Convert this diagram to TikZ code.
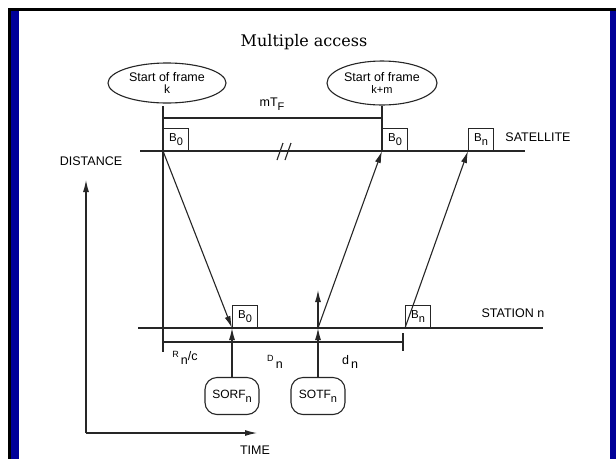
\documentclass[tikz,border=0pt]{standalone}
\usepackage{fontspec}
\setsansfont{Liberation Sans}
\newfontfamily\titlefont{DejaVu Serif}
\usetikzlibrary{shapes.geometric,arrows.meta}
\definecolor{slideblue}{RGB}{0,0,153}
\newcommand{\lowsub}[1]{\raisebox{-4pt}{\fontsize{11}{11}\selectfont #1}}

\begin{document}
\begin{tikzpicture}[x=1pt,y=-1pt,line width=1.1pt,draw=black!85]
    \tikzset{slot/.style={draw, minimum width=25pt, minimum height=22pt, inner sep=0pt, anchor=south west, font=\sffamily\fontsize{11.5}{11.5}\selectfont},
             sofbubble/.style={ellipse, draw, align=center, inner sep=0pt, font=\sffamily\fontsize{12.5}{13}\selectfont},
             marker/.style={draw, rounded corners=12pt, minimum width=54pt, minimum height=37pt, font=\sffamily\fontsize{12}{12}\selectfont},
             lbl/.style={font=\sffamily\fontsize{12.5}{12.5}\selectfont},
             ray/.style={-{Latex[length=12pt,width=6pt]}}};
%%
  \fill[white] (0,0) rectangle (616,459);
  \fill[black] (8,8) rectangle (616,11);
  \fill[black] (8,8) rectangle (11,459);
  \fill[slideblue] (11,11) rectangle (19,459);
  \fill[slideblue] (610,11) rectangle (616,459);
  \useasboundingbox (0,0) rectangle (616,459);

  \node (title) at (304,42) {\titlefont\fontsize{16}{18}\selectfont Multiple access};

  \node (sofk) at (167,83) [sofbubble, minimum width=118pt, minimum height=40pt] {Start of frame\\[-1pt]{\fontsize{12}{12}\selectfont k}};
  \node (sofkm) at (382,83) [sofbubble, minimum width=110pt, minimum height=44pt] {Start of frame\\[-1pt]{\fontsize{11}{11}\selectfont k+m}};

  \coordinate (tk) at (163,106);
  \coordinate (tkm) at (382,106);
  \coordinate (tkbot) at (163,352);
  \coordinate (satL) at (140,151);
  \coordinate (satR) at (525,151);
  \coordinate (staL) at (138,328);
  \coordinate (staR) at (543,328);
  \coordinate (sotfpt) at (318,328);
  \coordinate (sotftop) at (318,290);
  \coordinate (mtl) at (163,118);
  \coordinate (mtr) at (382,118);
  \coordinate (barL) at (164,342);
  \coordinate (barR) at (403,342);
  \coordinate (tickT) at (403,333);
  \coordinate (tickB) at (403,351);
  \coordinate (orig) at (86,433);
  \coordinate (distop) at (86,180);
  \coordinate (timend) at (257,433);

  \draw [] (satL) -- (satR);
  \draw [] (staL) -- (staR);

  \node (s0) at (163,151) [slot] {B\lowsub{0}};
  \node (s0m) at (382,151) [slot] {B\lowsub{0}};
  \node (sn) at (468,151) [slot] {B\lowsub{n}};
  \node (g0) at (232,328) [slot] {B\lowsub{0}};
  \node (gn) at (405,328) [slot] {B\lowsub{n}};

  \draw [] (tk) -- (tkbot);
  \draw [] (tkm) -- (s0m.south west);
  \draw [] (mtl) -- (mtr);
  \node (mtf) at (272,104) [lbl] {mT\lowsub{F}};

  \draw [] (277,160) -- (283,143);
  \draw [] (285,160) -- (291,143);

  \draw [ray] (s0.south west) -- (g0.south west);
  \draw [ray] (sotfpt) -- (s0m.south west);
  \draw [ray] (gn.south west) -- (sn.south west);

  \node (sorf) at (232,396) [marker] {SORF\lowsub{n}};
  \node (sotf) at (318,396) [marker] {SOTF\lowsub{n}};
  \draw [ray] (sorf.north) -- (g0.south west);
  \draw [ray] (sotf.north) -- (sotfpt);
  \draw [ray] (sotfpt) -- (sotftop);

  \draw [] (barL) -- (barR);
  \draw [] (tickT) -- (tickB);
  \node (rnc) at (185,358) [lbl] {\raisebox{3pt}{\fontsize{9}{9}\selectfont R}\,\raisebox{-4pt}{n}/c};
  \node (dn) at (275,362) [lbl] {\raisebox{3pt}{\fontsize{9}{9}\selectfont D}\,\raisebox{-4pt}{n}};
  \node (dnl) at (350,362) [lbl] {d\,\raisebox{-4pt}{n}};

  \draw [ray] (orig) -- (distop);
  \draw [ray] (orig) -- (timend);
  \node (distance) at (91,161) [lbl] {DISTANCE};
  \node (time) at (255,450) [lbl] {TIME};
  \node (sat) at (538,137) [lbl] {SATELLITE};
  \node (sta) at (513,313) [lbl] {STATION n};
  %
\end{tikzpicture}
\end{document}
